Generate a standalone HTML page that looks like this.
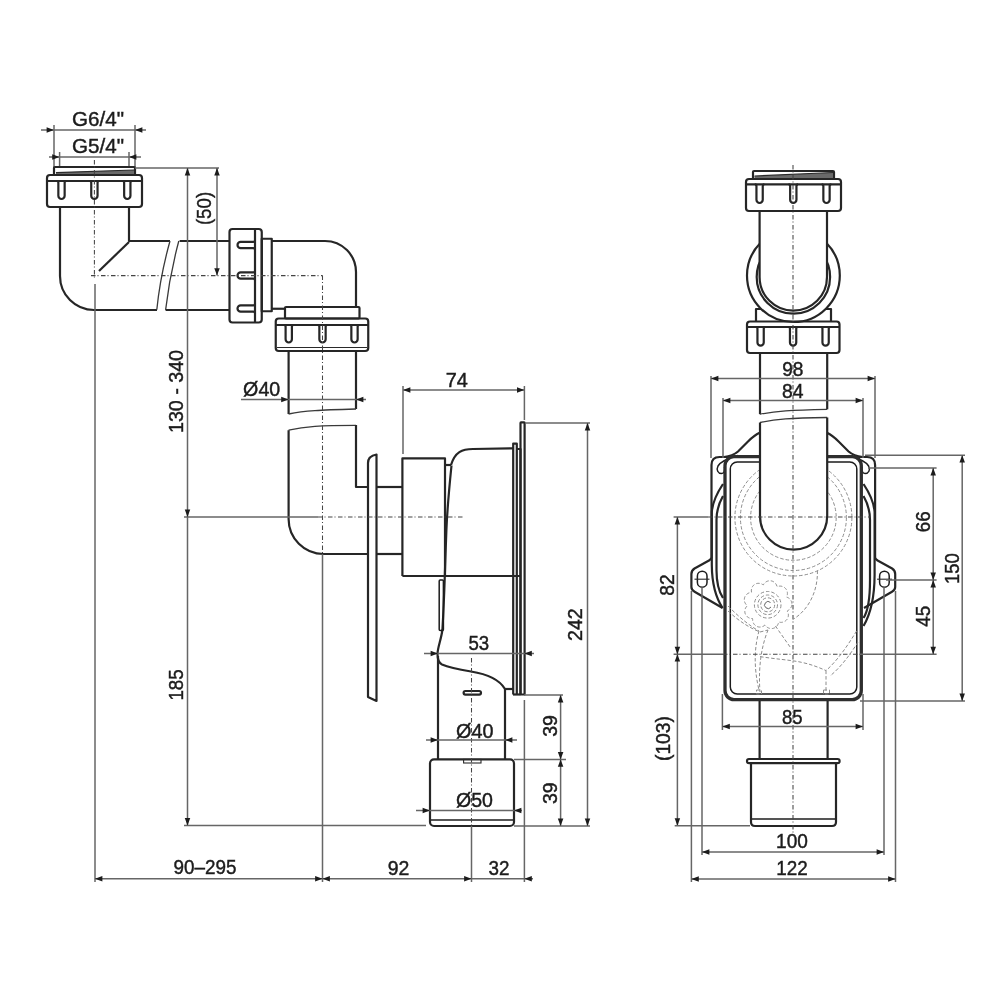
<!DOCTYPE html>
<html><head><meta charset="utf-8"><style>
html,body{margin:0;padding:0;background:#fff;}
svg{display:block;will-change:transform;}
.m{fill:none;stroke:#262626;stroke-width:2.2;stroke-linejoin:round;}
.mf{fill:#fff;stroke:#262626;stroke-width:2.2;}
.t{fill:none;stroke:#2a2a2a;stroke-width:1.1;}
.m2{fill:none;stroke:#1c1c1c;stroke-width:1.5;}
.b{fill:none;stroke:#3a3a3a;stroke-width:1.3;}
.d{fill:none;stroke:#666;stroke-width:1.5;}
.c{fill:none;stroke:#444;stroke-width:1.05;stroke-dasharray:4.5 2 1 2.5;}
.h{fill:none;stroke:#8c8c8c;stroke-width:1;stroke-dasharray:3.5 2;}
.ar{fill:#1c1c1c;stroke:none;}
text{font-family:"Liberation Sans",sans-serif;fill:#1c1c1c;stroke:#1c1c1c;stroke-width:0.45;}
</style></head><body>
<svg width="1000" height="1000" viewBox="0 0 1000 1000">
<line class="d" x1="41" y1="130" x2="146" y2="130"/>
<polygon class="ar" points="54,130 46.6,127.25 46.6,132.75"/>
<polygon class="ar" points="135,130 142.4,127.25 142.4,132.75"/>
<line class="d" x1="54" y1="125" x2="54" y2="168"/>
<line class="d" x1="135" y1="125" x2="135" y2="168"/>
<text transform="translate(72,125.9) scale(0.9811,1)" font-size="21">G6/4&quot;</text>
<line class="d" x1="49" y1="157" x2="141" y2="157"/>
<polygon class="ar" points="59.6,157 52.2,154.25 52.2,159.75"/>
<polygon class="ar" points="129,157 136.4,154.25 136.4,159.75"/>
<line class="d" x1="59.6" y1="152" x2="59.6" y2="168"/>
<line class="d" x1="129" y1="152" x2="129" y2="168"/>
<text transform="translate(72,152.7) scale(0.9811,1)" font-size="21">G5/4&quot;</text>
<rect class="m" x="54" y="167" width="81" height="8" rx="1"/>
<path d="M56,172.6 L134,170 L134,174.8 L56,174.8 Z" fill="#6a6a6a"/>
<line class="t" x1="56" y1="172.6" x2="134" y2="170"/>
<rect class="m" x="47" y="175" width="95" height="32" rx="3"/>
<line class="m" x1="47" y1="181" x2="142" y2="181"/>
<path class="m" d="M56.75,181 Q58.35,181 58.35,182.6 V195.85 A3.15,3.15 0 0 0 64.65,195.85 V182.6 Q64.65,181 66.25,181"/>
<path class="m" d="M89.65,181 Q91.25,181 91.25,182.6 V195.85 A3.15,3.15 0 0 0 97.55,195.85 V182.6 Q97.55,181 99.15,181"/>
<path class="m" d="M122.55,181 Q124.15,181 124.15,182.6 V195.85 A3.15,3.15 0 0 0 130.45,195.85 V182.6 Q130.45,181 132.05,181"/>
<path class="m" d="M60,207 V276 A34,34 0 0 0 94,310 H157"/>
<path class="m" d="M129,207 V241 H170"/>
<line class="m" x1="129" y1="242" x2="99" y2="271"/>
<path class="b" d="M170,241 Q160.3,275.5 156.8,309.8"/>
<path class="b" d="M178.8,241 Q169.6,275.5 165.6,309.8"/>
<line class="m" x1="179.6" y1="241" x2="229.5" y2="241"/>
<line class="m" x1="165.6" y1="310" x2="229.5" y2="310"/>
<rect class="m" x="229.5" y="229" width="32.25" height="93.5" rx="3"/>
<line class="m" x1="255" y1="229" x2="255" y2="322.5"/>
<path class="m" d="M255,240.25 Q255,241.85 253.4,241.85 H240.65 A3.15,3.15 0 0 0 240.65,248.15 H253.4 Q255,248.15 255,249.75"/>
<path class="m" d="M255,270.75 Q255,272.35 253.4,272.35 H240.65 A3.15,3.15 0 0 0 240.65,278.65 H253.4 Q255,278.65 255,280.25"/>
<path class="m" d="M255,303.75 Q255,305.35 253.4,305.35 H240.65 A3.15,3.15 0 0 0 240.65,311.65 H253.4 Q255,311.65 255,313.25"/>
<rect class="m" x="261.75" y="238.75" width="10" height="72.5" rx="0"/>
<path class="m" d="M271.75,241 H325 A31,31 0 0 1 356,272 V307.5"/>
<line class="m" x1="271.75" y1="308.75" x2="285" y2="308.75"/>
<rect class="m" x="285" y="307" width="74.5" height="11.5" rx="1"/>
<rect class="m" x="275.75" y="318.5" width="92.5" height="32.5" rx="3"/>
<line class="m" x1="275.75" y1="325" x2="368.25" y2="325"/>
<path class="m" d="M284,325 Q285.6,325 285.6,326.6 V339.35 A3.15,3.15 0 0 0 291.9,339.35 V326.6 Q291.9,325 293.5,325"/>
<path class="m" d="M317.75,325 Q319.35,325 319.35,326.6 V339.35 A3.15,3.15 0 0 0 325.65,339.35 V326.6 Q325.65,325 327.25,325"/>
<path class="m" d="M349.75,325 Q351.35,325 351.35,326.6 V339.35 A3.15,3.15 0 0 0 357.65,339.35 V326.6 Q357.65,325 359.25,325"/>
<line class="t" x1="277" y1="347.5" x2="367" y2="347.5"/>
<path class="m" d="M288.6,351 V414"/>
<path class="m" d="M356,351 V409"/>
<path class="b" d="M288.6,414 C305,410.5 320,410 356,409"/>
<path class="b" d="M288.6,430.2 C305,426.5 320,425.5 356,425.4"/>
<path class="m" d="M288.6,430.2 V519 A35,35 0 0 0 323.6,554 H368"/>
<path class="m" d="M356,425 V487 H368"/>
<path class="m" d="M368,554 V463 Q368,456 376.5,454.5 V701 L368,697 V554"/>
<line class="m" x1="376.5" y1="487" x2="402.4" y2="487"/>
<line class="m" x1="376.5" y1="554" x2="402.4" y2="554"/>
<path class="m" d="M402.4,576 V458.4 H445 V576"/>
<path class="m" d="M445,465 H451"/>
<path class="m" d="M451,465 C455,452 462,449 473,449 L513,448.4"/>
<path class="m" d="M451.5,465.5 C449,490 447,515 446.4,530 C445.8,545 445.2,565 444.8,576 C444,600 443,620 442.4,630 C441,640 437.5,648 437.5,654 C437.5,660 439,663 442,664.5 C450,668 462,670 471,671.5 C487,674 499,679 505,689"/>
<rect class="m2" x="439.2" y="580" width="4.2" height="50.5" rx="1"/>
<line class="m" x1="402.4" y1="576" x2="520.5" y2="576"/>
<path class="m" d="M513.2,694.5 V443.6 H516.8 V694.5"/>
<path class="m" d="M517,449 H520.5 V694.5"/>
<rect class="m" x="520.5" y="422.4" width="4.1" height="272.1" rx="0.5"/>
<line class="m" x1="505" y1="689" x2="513" y2="689"/>
<line class="m" x1="513" y1="694.5" x2="520.5" y2="694.5"/>
<path class="m" d="M438,656 V759"/>
<path class="m" d="M505,689 V759"/>
<rect class="m" x="463.6" y="691" width="17.4" height="3.6" rx="1.8"/>
<rect class="m" x="430" y="759.4" width="84" height="66.6" rx="4"/>
<line class="m2" x1="431" y1="820" x2="513" y2="820"/>
<rect class="t" x="463.6" y="759.4" width="17.4" height="3.6" rx="0"/>
<line class="c" x1="94.4" y1="160" x2="94.4" y2="278"/>
<line class="c" x1="91" y1="275.6" x2="322.5" y2="275.6"/>
<line class="c" x1="322.5" y1="275.6" x2="322.5" y2="554"/>
<line class="d" x1="184" y1="517" x2="318" y2="517"/>
<line class="c" x1="318" y1="517" x2="464" y2="517"/>
<line class="c" x1="471.5" y1="658" x2="471.5" y2="826"/>
<line class="d" x1="95" y1="284" x2="95" y2="882"/>
<line class="d" x1="322.5" y1="554" x2="322.5" y2="882"/>
<line class="d" x1="471.5" y1="826" x2="471.5" y2="882"/>
<line class="d" x1="524.4" y1="700" x2="524.4" y2="882"/>
<line class="d" x1="135" y1="168" x2="219" y2="168"/>
<line class="d" x1="184" y1="825.5" x2="426" y2="825.5"/>
<line class="d" x1="187.5" y1="168" x2="187.5" y2="825.5"/>
<polygon class="ar" points="187.5,168 184.75,175.4 190.25,175.4"/>
<polygon class="ar" points="187.5,517 184.75,509.6 190.25,509.6"/>
<polygon class="ar" points="187.5,825.5 184.75,818.1 190.25,818.1"/>
<text transform="translate(182.7,433) rotate(-90) scale(0.9357,1)" font-size="21">130 - 340</text>
<text transform="translate(183,700.6) rotate(-90) scale(0.8914,1)" font-size="21">185</text>
<line class="d" x1="217" y1="168" x2="217" y2="275.6"/>
<polygon class="ar" points="217,168 214.25,175.4 219.75,175.4"/>
<polygon class="ar" points="217,275.6 214.25,268.2 219.75,268.2"/>
<text transform="translate(210.8,225.1) rotate(-90) scale(0.8901,1)" font-size="21">(50)</text>
<line class="d" x1="241" y1="399.4" x2="366" y2="399.4"/>
<polygon class="ar" points="288.6,399.4 281.2,396.65 281.2,402.15"/>
<polygon class="ar" points="356,399.4 363.4,396.65 363.4,402.15"/>
<text transform="translate(243.1,395.8) scale(0.9370,1)" font-size="21">Ø40</text>
<line class="d" x1="403" y1="390" x2="524.4" y2="390"/>
<polygon class="ar" points="403,390 410.4,387.25 410.4,392.75"/>
<polygon class="ar" points="524.4,390 517,387.25 517,392.75"/>
<line class="d" x1="403" y1="386" x2="403" y2="454"/>
<line class="d" x1="524.4" y1="386" x2="524.4" y2="420"/>
<text transform="translate(445.8,387.2) scale(0.9487,1)" font-size="21">74</text>
<line class="d" x1="525" y1="423" x2="590" y2="423"/>
<line class="d" x1="514" y1="826" x2="590" y2="826"/>
<line class="d" x1="587.5" y1="423" x2="587.5" y2="826"/>
<polygon class="ar" points="587.5,423 584.75,430.4 590.25,430.4"/>
<polygon class="ar" points="587.5,826 584.75,818.6 590.25,818.6"/>
<text transform="translate(582.3,640.98) rotate(-90) scale(0.9357,1)" font-size="21">242</text>
<line class="d" x1="424" y1="653.6" x2="534" y2="653.6"/>
<polygon class="ar" points="438,653.6 430.6,650.85 430.6,656.35"/>
<polygon class="ar" points="524.4,653.6 531.8,650.85 531.8,656.35"/>
<text transform="translate(468.4,649.7) scale(0.8889,1)" font-size="21">53</text>
<line class="d" x1="426" y1="740" x2="517" y2="740"/>
<polygon class="ar" points="438,740 430.6,737.25 430.6,742.75"/>
<polygon class="ar" points="505,740 512.4,737.25 512.4,742.75"/>
<text transform="translate(456,737.8) scale(0.9446,1)" font-size="21">Ø40</text>
<line class="d" x1="416" y1="810.4" x2="522" y2="810.4"/>
<polygon class="ar" points="430,810.4 422.6,807.65 422.6,813.15"/>
<polygon class="ar" points="514,810.4 521.4,807.65 521.4,813.15"/>
<text transform="translate(456,806.8) scale(0.9320,1)" font-size="21">Ø50</text>
<line class="d" x1="524" y1="695" x2="563" y2="695"/>
<line class="d" x1="514" y1="759.4" x2="566" y2="759.4"/>
<line class="d" x1="560.6" y1="695" x2="560.6" y2="826"/>
<polygon class="ar" points="560.6,695 557.85,702.4 563.35,702.4"/>
<polygon class="ar" points="560.6,759.4 557.85,752 563.35,752"/>
<polygon class="ar" points="560.6,759.4 557.85,766.8 563.35,766.8"/>
<polygon class="ar" points="560.6,826 557.85,818.6 563.35,818.6"/>
<text transform="translate(556.7,736.8) rotate(-90) scale(0.9316,1)" font-size="21">39</text>
<text transform="translate(556.7,804) rotate(-90) scale(0.9316,1)" font-size="21">39</text>
<line class="d" x1="95" y1="878.75" x2="533" y2="878.75"/>
<polygon class="ar" points="95,878.75 102.4,876 102.4,881.5"/>
<polygon class="ar" points="322.5,878.75 315.1,876 315.1,881.5"/>
<polygon class="ar" points="322.5,878.75 329.9,876 329.9,881.5"/>
<polygon class="ar" points="471.5,878.75 464.1,876 464.1,881.5"/>
<polygon class="ar" points="524.4,878.75 531.8,876 531.8,881.5"/>
<text transform="translate(173.5,873.8) scale(0.8987,1)" font-size="21">90–295</text>
<text transform="translate(387.65,875.2) scale(0.9274,1)" font-size="21">92</text>
<text transform="translate(488.5,875.2) scale(0.8974,1)" font-size="21">32</text>
<rect class="m" x="753" y="171" width="81" height="8" rx="1"/>
<path d="M754.5,176 L833,172.5 L833,178.6 L754.5,178.6 Z" fill="#6a6a6a"/>
<line class="t" x1="754.5" y1="176" x2="833" y2="172.5"/>
<rect class="m" x="746" y="179" width="95" height="32" rx="3"/>
<line class="m" x1="746" y1="184.4" x2="841" y2="184.4"/>
<path class="m" d="M754.85,184.4 Q756.45,184.4 756.45,186 V199.85 A3.15,3.15 0 0 0 762.75,199.85 V186 Q762.75,184.4 764.35,184.4"/>
<path class="m" d="M788.55,184.4 Q790.15,184.4 790.15,186 V199.85 A3.15,3.15 0 0 0 796.45,199.85 V186 Q796.45,184.4 798.05,184.4"/>
<path class="m" d="M821.75,184.4 Q823.35,184.4 823.35,186 V199.85 A3.15,3.15 0 0 0 829.65,199.85 V186 Q829.65,184.4 831.25,184.4"/>
<path class="m" d="M756,322 V309 H831 V322"/>
<circle class="mf" cx="793.4" cy="275.6" r="46.4"/>
<circle class="m" cx="793.4" cy="277" r="36.7"/>
<path class="mf" d="M759.6,211 V277 A33.7,33.7 0 0 0 827,277 V211 Z"/>
<rect class="m" x="747" y="321.5" width="92.5" height="31.5" rx="3"/>
<line class="m" x1="747" y1="327" x2="839.5" y2="327"/>
<path class="m" d="M755.85,327 Q757.45,327 757.45,328.6 V342.45 A3.15,3.15 0 0 0 763.75,342.45 V328.6 Q763.75,327 765.35,327"/>
<path class="m" d="M788.35,327 Q789.95,327 789.95,328.6 V342.45 A3.15,3.15 0 0 0 796.25,342.45 V328.6 Q796.25,327 797.85,327"/>
<path class="m" d="M820.85,327 Q822.45,327 822.45,328.6 V342.45 A3.15,3.15 0 0 0 828.75,342.45 V328.6 Q828.75,327 830.35,327"/>
<path class="m" d="M760,353 V414.2"/>
<path class="m" d="M827.2,353 V409.3"/>
<path class="b" d="M760,414.2 C776,411 790,410 827.2,409.3"/>
<path class="m" d="M759.6,432.8 C756,434.5 752,437.5 748,441.5 L738,451.5 C734,455 729,456.5 724,457"/>
<path class="m" d="M738,457 H719.5 Q711.5,457 711.5,465 V557.6 Q711,559 709,560.5 L694.5,568.5 Q691.4,570.5 691.4,574 V587 Q691.4,590 694.6,591.8 L722.6,608"/>
<path class="m" d="M723,484 C717,493 712.5,503 711.8,512 V565 C712,585 716,598 722.6,608"/>
<path class="m" d="M723,496 C719,503 716.5,510 716.5,520 V570 C716.5,585 719,592 723,598"/>
<path class="m2" d="M738,455.5 C729,458 721,461 718,466 C716,470 718,473.5 721.5,473.5 C724.5,473.5 725,470 724.5,467"/>
<rect class="m2" x="697.4" y="571.2" width="9.6" height="16" rx="4.8"/>
<line class="t" x1="694.5" y1="579.2" x2="709.5" y2="579.2"/>
<g transform="translate(1586.6,0) scale(-1,1)"><path class="m" d="M759.6,432.8 C756,434.5 752,437.5 748,441.5 L738,451.5 C734,455 729,456.5 724,457"/>
<path class="m" d="M738,457 H719.5 Q711.5,457 711.5,465 V557.6 Q711,559 709,560.5 L694.5,568.5 Q691.4,570.5 691.4,574 V587 Q691.4,590 694.6,591.8 L722.6,608"/>
<path class="m2" d="M738,455.5 C729,458 721,461 718,466 C716,470 718,473.5 721.5,473.5 C724.5,473.5 725,470 724.5,467"/>
<rect class="m2" x="697.4" y="571.2" width="9.6" height="16" rx="4.8"/>
<line class="t" x1="694.5" y1="579.2" x2="709.5" y2="579.2"/></g>
<path class="m" d="M863.5,484 C869.5,493 874,503 874.6,512 V575 C874.5,600 870,615 863.5,626"/>
<path class="m" d="M863.5,496 C867.5,503 870,510 870,520 V580 C870,600 867.5,612 863.5,618"/>
<rect x="725" y="456.6" width="136.3" height="243" rx="9" fill="none" stroke="#2e2e2e" stroke-width="3.3"/>
<rect class="m2" x="730.3" y="462" width="126.5" height="232" rx="7"/>
<circle class="h" cx="793.4" cy="517.5" r="42.8"/>
<circle class="h" cx="793.4" cy="517.5" r="53"/>
<circle class="h" cx="793.4" cy="517.5" r="58.5"/>
<path class="h" d="M791.84,604.8 L791.7,605.64 L791.45,606.46 L791.11,607.26 L790.67,608.03 L790.13,608.75 L789.48,609.43 L788.73,610.04 L787.81,610.57 L787.16,611.12 L787.77,612.1 L788.11,613.05 L788.31,613.97 L788.38,614.89 L788.35,615.78 L788.22,616.65 L787.99,617.48 L787.67,618.27 L787.26,619.01 L786.77,619.7 L786.19,620.32 L785.54,620.87 L784.83,621.34 L784.05,621.73 L783.22,622.04 L782.34,622.24 L781.41,622.35 L780.44,622.33 L779.4,622.14 L778.54,622.15 L778.38,623.29 L778.03,624.24 L777.59,625.07 L777.06,625.82 L776.46,626.49 L775.8,627.07 L775.09,627.56 L774.34,627.96 L773.55,628.26 L772.73,628.47 L771.89,628.57 L771.04,628.58 L770.19,628.48 L769.34,628.28 L768.51,627.98 L767.7,627.57 L766.92,627.06 L766.19,626.42 L765.51,625.6 L764.85,625.06 L763.99,625.83 L763.12,626.33 L762.24,626.69 L761.36,626.92 L760.47,627.05 L759.6,627.07 L758.74,626.99 L757.9,626.81 L757.1,626.53 L756.34,626.16 L755.63,625.71 L754.98,625.16 L754.38,624.54 L753.86,623.84 L753.42,623.08 L753.06,622.24 L752.8,621.35 L752.65,620.39 L752.65,619.33 L752.49,618.49 L751.34,618.53 L750.35,618.35 L749.45,618.06 L748.62,617.67 L747.86,617.2 L747.18,616.65 L746.57,616.03 L746.05,615.36 L745.61,614.64 L745.26,613.86 L745.01,613.06 L744.86,612.22 L744.81,611.36 L744.86,610.49 L745.01,609.62 L745.27,608.75 L745.65,607.9 L746.15,607.07 L746.83,606.26 L747.25,605.51 L746.34,604.8 L745.7,604.03 L745.2,603.23 L744.81,602.39 L744.54,601.54 L744.36,600.69 L744.29,599.82 L744.32,598.97 L744.46,598.13 L744.69,597.32 L745.01,596.54 L745.44,595.8 L745.95,595.11 L746.54,594.48 L747.22,593.91 L747.98,593.41 L748.81,593 L749.73,592.68 L750.78,592.5 L751.57,592.2 L751.34,591.07 L751.34,590.07 L751.47,589.13 L751.71,588.25 L752.05,587.42 L752.47,586.65 L752.97,585.94 L753.54,585.31 L754.18,584.75 L754.88,584.28 L755.63,583.89 L756.43,583.6 L757.26,583.4 L758.13,583.3 L759.01,583.3 L759.91,583.4 L760.82,583.62 L761.73,583.97 L762.64,584.5 L763.45,584.78 L763.99,583.77 L764.64,583 L765.34,582.37 L766.09,581.84 L766.88,581.42 L767.7,581.1 L768.54,580.88 L769.38,580.77 L770.23,580.75 L771.07,580.84 L771.89,581.03 L772.69,581.31 L773.46,581.7 L774.19,582.17 L774.87,582.74 L775.49,583.4 L776.04,584.15 L776.51,585 L776.87,586 L777.31,586.73 L778.38,586.31 L779.36,586.13 L780.31,586.1 L781.23,586.18 L782.1,586.37 L782.93,586.65 L783.71,587.02 L784.44,587.47 L785.09,588 L785.68,588.61 L786.19,589.28 L786.62,590.02 L786.96,590.8 L787.21,591.64 L787.37,592.51 L787.42,593.41 L787.36,594.34 L787.18,595.3 L786.81,596.29 L786.67,597.13 L787.77,597.5 L788.63,598 L789.38,598.58 L790.03,599.23 L790.58,599.94 L791.04,600.69 L791.4,601.47 L791.66,602.28 L791.82,603.11 L791.88,603.96 L791.84,604.8Z"/>
<circle class="h" cx="767.7" cy="604.8" r="13.3"/>
<circle class="h" cx="767.7" cy="604.8" r="9.8"/>
<circle class="h" cx="767.7" cy="604.8" r="7"/>
<path d="M770.5,602.5 A3.5,3.5 0 1 0 771,607" fill="none" stroke="#666" stroke-width="1"/>
<path class="h" d="M817.4,570.5 C818,592 808,610 793.6,619"/>
<path class="h" d="M728,606 C740,618 750,626 759,631"/>
<path class="h" d="M728,611 C740,622 750,628 760,632 L768,630"/>
<path class="h" d="M759,631 C755,645 753,665 759,690"/>
<path class="h" d="M768,630 C762,645 758,665 760,692"/>
<path class="h" d="M775.4,626 L790.8,648"/>
<path class="h" d="M760,656.6 C775,659 790,660 800,662 C810,664 818,667 826,670.6"/>
<path class="h" d="M826,670.6 V692"/>
<path class="h" d="M856.6,631 C848,645 838,660 826,670.6"/>
<path class="h" d="M858,642 C850,655 840,668 830,676"/>
<rect class="h" x="756.5" y="690" width="5" height="4" rx="0"/>
<rect class="h" x="823.5" y="690" width="6" height="4" rx="0"/>
<path d="M760,422.5 C776,419 790,418 827.2,417.5 V516 A33.6,33.6 0 0 1 760,516 Z" fill="#fff" stroke="none"/>
<path class="b" d="M760,422.5 C776,419 790,418 827.2,417.5"/>
<path class="m" d="M760,422.5 V516 A33.6,33.6 0 0 0 827.2,516 V417.5"/>
<path class="m" d="M759.6,701 V759"/>
<path class="m" d="M827.6,701 V759"/>
<rect class="m" x="747" y="759" width="92.6" height="4.2" rx="2"/>
<path class="m" d="M751,763.2 V822 Q751,826 755,826 H832 Q836,826 836,822 V763.2"/>
<line class="m2" x1="752" y1="819" x2="835" y2="819"/>
<line class="c" x1="793" y1="165" x2="793" y2="835"/>
<line class="d" x1="673.6" y1="517" x2="708" y2="517"/>
<line class="c" x1="708" y1="517" x2="870" y2="517"/>
<line class="d" x1="673.6" y1="654.2" x2="723" y2="654.2"/>
<line class="c" x1="723" y1="654.2" x2="860" y2="654.2"/>
<line class="d" x1="711" y1="376" x2="711" y2="458"/>
<line class="d" x1="875" y1="376" x2="875" y2="458"/>
<line class="d" x1="711" y1="378.6" x2="875" y2="378.6"/>
<polygon class="ar" points="711,378.6 718.4,375.85 718.4,381.35"/>
<polygon class="ar" points="875,378.6 867.6,375.85 867.6,381.35"/>
<text transform="translate(782.15,375.9) scale(0.9103,1)" font-size="21">98</text>
<line class="d" x1="723" y1="398" x2="723" y2="458"/>
<line class="d" x1="863" y1="398" x2="863" y2="458"/>
<line class="d" x1="723" y1="400.6" x2="863" y2="400.6"/>
<polygon class="ar" points="723,400.6 730.4,397.85 730.4,403.35"/>
<polygon class="ar" points="863,400.6 855.6,397.85 855.6,403.35"/>
<text transform="translate(782.1,397.5) scale(0.9231,1)" font-size="21">84</text>
<line class="d" x1="722.4" y1="694" x2="722.4" y2="730"/>
<line class="d" x1="863" y1="694" x2="863" y2="730"/>
<line class="d" x1="722.4" y1="726.4" x2="863" y2="726.4"/>
<polygon class="ar" points="722.4,726.4 729.8,723.65 729.8,729.15"/>
<polygon class="ar" points="863,726.4 855.6,723.65 855.6,729.15"/>
<text transform="translate(782.05,724.1) scale(0.8846,1)" font-size="21">85</text>
<line class="d" x1="865" y1="455.2" x2="965" y2="455.2"/>
<line class="d" x1="860" y1="701" x2="965" y2="701"/>
<line class="d" x1="962.2" y1="455.2" x2="962.2" y2="701"/>
<polygon class="ar" points="962.2,455.2 959.45,462.6 964.95,462.6"/>
<polygon class="ar" points="962.2,701 959.45,693.6 964.95,693.6"/>
<text transform="translate(958.9,584) rotate(-90) scale(0.8800,1)" font-size="21">150</text>
<line class="d" x1="868" y1="468" x2="936.6" y2="468"/>
<line class="d" x1="886" y1="580" x2="936.6" y2="580"/>
<line class="d" x1="860" y1="654.2" x2="936.6" y2="654.2"/>
<line class="d" x1="933.2" y1="468" x2="933.2" y2="654.2"/>
<polygon class="ar" points="933.2,468 930.45,475.4 935.95,475.4"/>
<polygon class="ar" points="933.2,580 930.45,572.6 935.95,572.6"/>
<polygon class="ar" points="933.2,580 930.45,587.4 935.95,587.4"/>
<polygon class="ar" points="933.2,654.2 930.45,646.8 935.95,646.8"/>
<text transform="translate(930.2,532.2) rotate(-90) scale(0.8974,1)" font-size="21">66</text>
<text transform="translate(930.2,626.7) rotate(-90) scale(0.8974,1)" font-size="21">45</text>
<line class="d" x1="677.4" y1="517" x2="677.4" y2="825.7"/>
<polygon class="ar" points="677.4,517 674.65,524.4 680.15,524.4"/>
<polygon class="ar" points="677.4,654.2 674.65,646.8 680.15,646.8"/>
<polygon class="ar" points="677.4,654.2 674.65,661.6 680.15,661.6"/>
<polygon class="ar" points="677.4,825.7 674.65,818.3 680.15,818.3"/>
<line class="d" x1="674.7" y1="825.7" x2="750" y2="825.7"/>
<text transform="translate(673.8,595.75) rotate(-90) scale(0.9188,1)" font-size="21">82</text>
<text transform="translate(670,761) rotate(-90) scale(0.9143,1)" font-size="21">(103)</text>
<line class="d" x1="702" y1="587" x2="702" y2="855"/>
<line class="d" x1="884" y1="587" x2="884" y2="855"/>
<line class="d" x1="702" y1="852" x2="884" y2="852"/>
<polygon class="ar" points="702,852 709.4,849.25 709.4,854.75"/>
<polygon class="ar" points="884,852 876.6,849.25 876.6,854.75"/>
<text transform="translate(776.1,848.3) scale(0.9086,1)" font-size="21">100</text>
<line class="d" x1="691.4" y1="591" x2="691.4" y2="882"/>
<line class="d" x1="895.5" y1="591" x2="895.5" y2="882"/>
<line class="d" x1="691.4" y1="879" x2="895.5" y2="879"/>
<polygon class="ar" points="691.4,879 698.8,876.25 698.8,881.75"/>
<polygon class="ar" points="895.5,879 888.1,876.25 888.1,881.75"/>
<text transform="translate(776.15,875.3) scale(0.9000,1)" font-size="21">122</text>
</svg></body></html>
